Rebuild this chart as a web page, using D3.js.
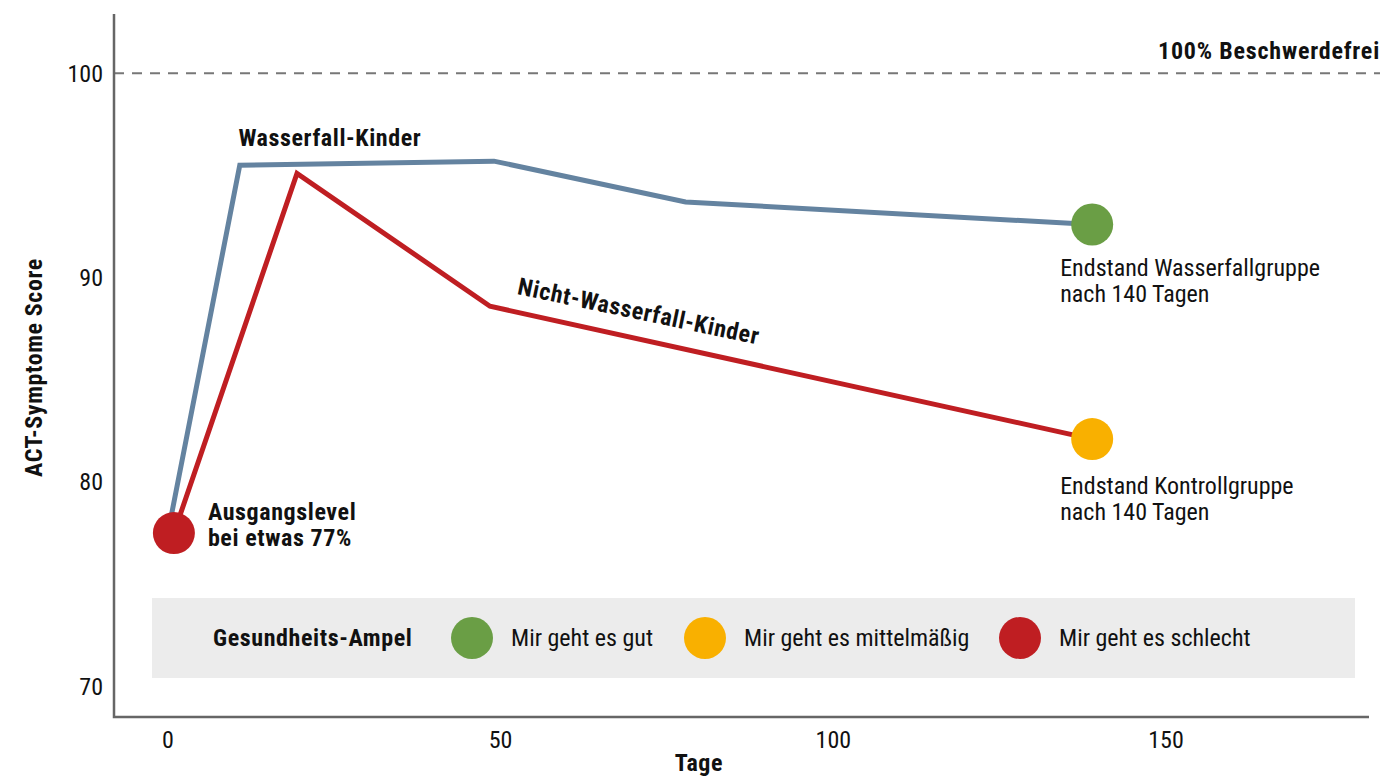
<!DOCTYPE html>
<html>
<head>
<meta charset="utf-8">
<script src="https://cdn.jsdelivr.net/npm/d3@7"></script>
<style>
  body { margin: 0; background: #fff; }
  svg text { font-family: "Liberation Sans Narrow", "Roboto Condensed", "Roboto", sans-serif; font-size: 24px; fill: #111; }
  svg text.b { font-weight: bold; letter-spacing: 0.6px; }
</style>
</head>
<body>
<svg id="chart" width="1385" height="778"></svg>
<script>
// data (x = Tage, y = ACT score)
const wasserfall = [[0, 77.5], [10.8, 95.5], [49, 95.7], [77.8, 93.7], [138.9, 92.6]];
const kontrolle = [[0.9, 77.5], [19.4, 95.1], [48.4, 88.6], [138.9, 82.1]];
const xTicks = [0, 50, 100, 150];
const yTicks = [70, 80, 90, 100];
const ampelLabels = ["Mir geht es gut", "Mir geht es mittelmäßig", "Mir geht es schlecht"];
const ampelColors = ["#6a9e45", "#f9b000", "#bf1e22"];

const svg = d3.select("#chart");

const x = d3.scaleLinear().domain([-8.1, 180.5]).range([114, 1369]);
const y = d3.scaleLinear().domain([68.5, 102.9]).range([717, 14]);

const blue = "#6483a0", red = "#bf1e22";

// legend box (behind everything)
const lg = svg.append("g");
lg.append("rect")
  .attr("x", 152).attr("y", 598).attr("width", 1203).attr("height", 80)
  .attr("fill", "#ececec");
lg.append("text").attr("class", "b")
  .attr("x", 213).attr("y", 646)
  .text("Gesundheits-Ampel");
const lgX = [472, 705, 1020];
ampelLabels.forEach((lab, i) => {
  lg.append("circle").attr("cx", lgX[i]).attr("cy", 638).attr("r", 21).attr("fill", ampelColors[i]);
  lg.append("text")
    .attr("x", lgX[i] + 39).attr("y", 646)
    .text(lab);
});

// 100% reference line
svg.append("line")
  .attr("x1", x.range()[0]).attr("x2", 1380)
  .attr("y1", y(100)).attr("y2", y(100))
  .attr("stroke", "#777").attr("stroke-width", 2)
  .attr("stroke-dasharray", "10,8");
svg.append("text").attr("class", "b")
  .attr("x", 1380).attr("y", y(100) - 14)
  .attr("text-anchor", "end")
  .style("letter-spacing", "0.8px")
  .text("100% Beschwerdefrei");

// axes
svg.append("path")
  .attr("d", `M${x.range()[0]},${y.range()[1]}V${y.range()[0]}H${x.range()[1]}`)
  .attr("fill", "none").attr("stroke", "#666").attr("stroke-width", 2.5);

svg.append("g")
  .selectAll("text")
  .data(yTicks)
  .join("text")
    .attr("x", 103).attr("y", d => y(d) + 8.5)
    .attr("text-anchor", "end")
    .text(d => d);

svg.append("g")
  .selectAll("text")
  .data(xTicks)
  .join("text")
    .attr("x", d => x(d)).attr("y", 748)
    .attr("text-anchor", "middle")
    .text(d => d);

svg.append("text").attr("class", "b")
  .attr("x", x(79.8)).attr("y", 771)
  .attr("text-anchor", "middle")
  .text("Tage");

svg.append("text").attr("class", "b")
  .attr("transform", `translate(42,${y(85.6)}) rotate(-90)`)
  .attr("text-anchor", "middle")
  .text("ACT-Symptome Score");

// lines
const line = d3.line().x(d => x(d[0])).y(d => y(d[1]));
svg.append("path").datum(wasserfall)
  .attr("d", line).attr("fill", "none")
  .attr("stroke", blue).attr("stroke-width", 5).attr("stroke-linejoin", "miter");
svg.append("path").datum(kontrolle)
  .attr("d", line).attr("fill", "none")
  .attr("stroke", red).attr("stroke-width", 5).attr("stroke-linejoin", "miter");

// end & start dots
const wEnd = wasserfall[wasserfall.length - 1];
const kEnd = kontrolle[kontrolle.length - 1];
const start = kontrolle[0];
svg.append("circle").attr("cx", x(wEnd[0])).attr("cy", y(wEnd[1])).attr("r", 21).attr("fill", ampelColors[0]);
svg.append("circle").attr("cx", x(kEnd[0])).attr("cy", y(kEnd[1])).attr("r", 21).attr("fill", ampelColors[1]);
svg.append("circle").attr("cx", x(start[0])).attr("cy", y(start[1])).attr("r", 21).attr("fill", ampelColors[2]);

// annotations
function label(px, py, lines, bold) {
  const t = svg.append("text")
    .attr("x", px).attr("y", py)
    .attr("class", bold ? "b" : null);
  lines.forEach((l, i) => t.append("tspan").attr("x", px).attr("dy", i ? 26 : 0).text(l));
  return t;
}
label(x(10.6), y(wasserfall[1][1]) - 19, ["Wasserfall-Kinder"], true);
label(x(start[0]) + 34, y(start[1]) - 13, ["Ausgangslevel", "bei etwas 77%"], true);
label(x(wEnd[0]) - 32, y(wEnd[1]) + 52, ["Endstand Wasserfallgruppe", "nach 140 Tagen"], false);
label(x(kEnd[0]) - 32, y(kEnd[1]) + 55, ["Endstand Kontrollgruppe", "nach 140 Tagen"], false);

const ang = Math.atan2(y(kEnd[1]) - y(kontrolle[2][1]), x(kEnd[0]) - x(kontrolle[2][0])) * 180 / Math.PI;
svg.append("text").attr("class", "b")
  .attr("transform", `translate(${x(52.4)},${y(89.2)}) rotate(${ang - 0.6})`)
  .text("Nicht-Wasserfall-Kinder");
</script>
</body>
</html>
